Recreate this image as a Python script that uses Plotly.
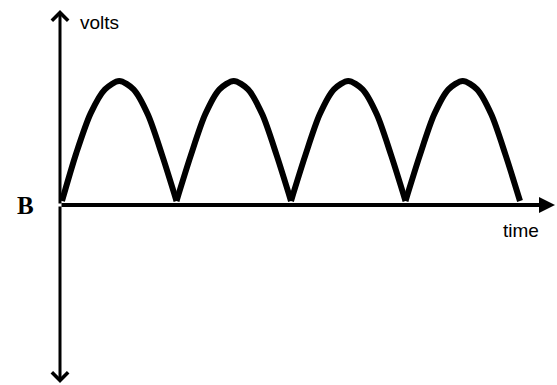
import plotly.graph_objects as go

# Data: time in half-cycles, volts normalised to peak
time = [0.0, 0.125, 0.25, 0.375, 0.5, 0.625, 0.75, 0.875, 1.0,
        1.125, 1.25, 1.375, 1.5, 1.625, 1.75, 1.875, 2.0,
        2.125, 2.25, 2.375, 2.5, 2.625, 2.75, 2.875, 3.0,
        3.125, 3.25, 3.375, 3.5, 3.625, 3.75, 3.875, 4.0]
volts = [0.0, 0.40, 0.73, 0.93, 1.0, 0.93, 0.72, 0.38, 0.0,
         0.38, 0.72, 0.93, 1.0, 0.93, 0.72, 0.38, 0.0,
         0.38, 0.72, 0.93, 1.0, 0.93, 0.72, 0.38, 0.0,
         0.38, 0.72, 0.93, 1.0, 0.93, 0.72, 0.38, 0.0]

W, H = 557, 385
# axis ranges chosen so time 0 -> x=62 px, time 4 -> x=520 px; volts 0 -> y=201 px, 1 -> y=81 px
sx = (520 - 62) / 4.0
x0 = -62 / sx
x1 = x0 + W / sx
sy = (201 - 81) / 1.0
y0 = -(H - 201) / sy
y1 = y0 + H / sy

def px(x):
    return x / W

def py(y):
    return 1 - y / H

fig = go.Figure()
# one smooth arch per half-cycle so the joins at zero stay pointed
n = 8
for k in range(0, len(time) - 1, n):
    fig.add_trace(go.Scatter(x=time[k:k + n + 1], y=volts[k:k + n + 1], mode="lines",
                             line=dict(color="black", width=6, shape="spline", smoothing=0.8),
                             hoverinfo="skip", showlegend=False))

ann = []
# vertical axis up
ann.append(dict(x=px(60), y=py(10), xref="paper", yref="paper", text="", showarrow=True,
                ax=0, ay=195, arrowhead=4, arrowwidth=3, arrowsize=1.05, arrowcolor="black", standoff=0))
# vertical axis down
ann.append(dict(x=px(60), y=py(383), xref="paper", yref="paper", text="", showarrow=True,
                ax=0, ay=-178, arrowhead=4, arrowwidth=3, arrowsize=1.05, arrowcolor="black", standoff=0))
# horizontal axis right
ann.append(dict(x=px(555), y=py(205), xref="paper", yref="paper", text="", showarrow=True,
                ax=-495, ay=0, arrowhead=2, arrowwidth=4, arrowsize=0.8, arrowcolor="black", standoff=0))
# labels
ann.append(dict(x=px(78), y=py(22), xref="paper", yref="paper", text="volts", showarrow=False,
                xanchor="left", yanchor="middle",
                font=dict(family="Liberation Sans, Arial", size=19, color="black")))
ann.append(dict(x=px(521), y=py(230), xref="paper", yref="paper", text="time", showarrow=False,
                xanchor="center", yanchor="middle",
                font=dict(family="Liberation Sans, Arial", size=19, color="black")))
ann.append(dict(x=px(25), y=py(206), xref="paper", yref="paper", text="<b>B</b>", showarrow=False,
                xanchor="center", yanchor="middle",
                font=dict(family="Liberation Serif, Times New Roman", size=25, color="black")))

fig.update_layout(
    width=W, height=H,
    margin=dict(l=0, r=0, t=0, b=0),
    paper_bgcolor="white", plot_bgcolor="white",
    xaxis=dict(range=[x0, x1], visible=False, fixedrange=True),
    yaxis=dict(range=[y0, y1], visible=False, fixedrange=True),
    annotations=ann,
)

fig.write_html("out.html", config={"displayModeBar": False},
               post_script="document.body.style.margin='0';document.body.style.overflow='hidden';")
